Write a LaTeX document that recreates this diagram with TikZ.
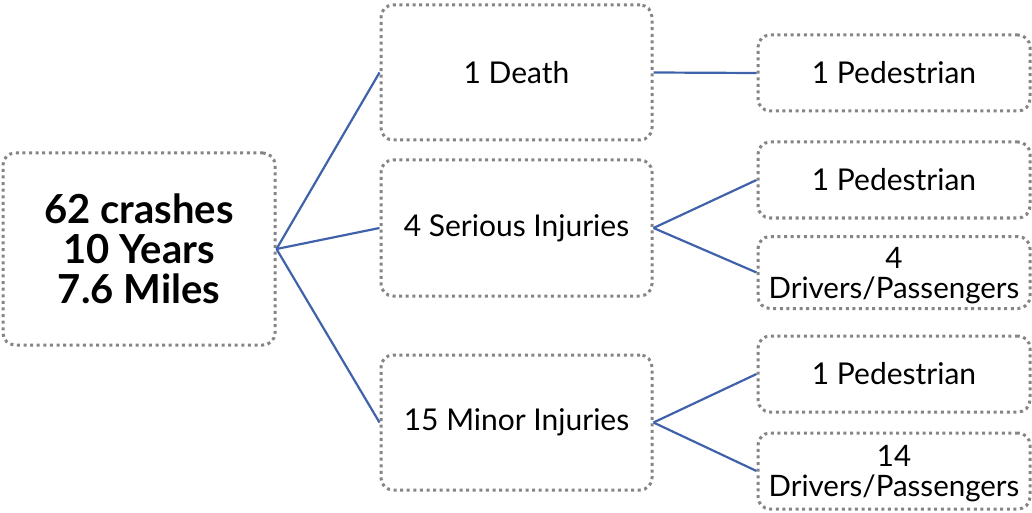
\documentclass[tikz,border=0pt]{standalone}
\usepackage{fontspec}
\setmainfont{Lato}
\definecolor{boxgray}{HTML}{858585}
\definecolor{linkblue}{HTML}{4062AA}
\begin{document}
\begin{tikzpicture}[x=1pt,y=1pt,
  box/.style={draw=boxgray, line width=3pt, dash pattern=on 3pt off 3.6pt, rounded corners=12pt, align=center, inner sep=0pt, font=\fontsize{30}{31}\selectfont},
  twoline/.style={font=\fontsize{29.5}{30}\selectfont, text depth=-3pt},
  link/.style={draw=linkblue, line width=2.2pt}]
\useasboundingbox (0,0) rectangle (1032,512);
\node[box, minimum width=272pt, minimum height=192pt, font=\fontsize{40}{40}\selectfont\bfseries] (L) at (139,263) {62 crashes\\10 Years\\7.6 Miles};
\node[box, minimum width=271pt, minimum height=135pt] (D) at (516.5,439.5) {1 Death};
\node[box, minimum width=271pt, minimum height=136pt] (S) at (516.5,284) {4 Serious Injuries};
\node[box, minimum width=271pt, minimum height=135pt] (M) at (516.5,89.5) {15 Minor Injuries};
\node[box, minimum width=272pt, minimum height=76pt] (P1) at (894,439) {1 Pedestrian};
\node[box, minimum width=272pt, minimum height=76pt] (P2) at (894,332) {1 Pedestrian};
\node[box, twoline, minimum width=272pt, minimum height=72pt] (R2) at (894,239.5) {4\\Drivers/Passengers};
\node[box, minimum width=272pt, minimum height=76pt] (P3) at (894,138) {1 Pedestrian};
\node[box, twoline, minimum width=272pt, minimum height=76pt] (R3) at (894,41) {14\\Drivers/Passengers};
\draw[link] (L.east) -- (D.west);
\draw[link] (L.east) -- (S.west);
\draw[link] (L.east) -- (M.west);
\draw[link] (D.east) -- (P1.west);
\draw[link] (S.east) -- (P2.west);
\draw[link] (S.east) -- (R2.west);
\draw[link] (M.east) -- (P3.west);
\draw[link] (M.east) -- (R3.west);
\end{tikzpicture}
\end{document}
